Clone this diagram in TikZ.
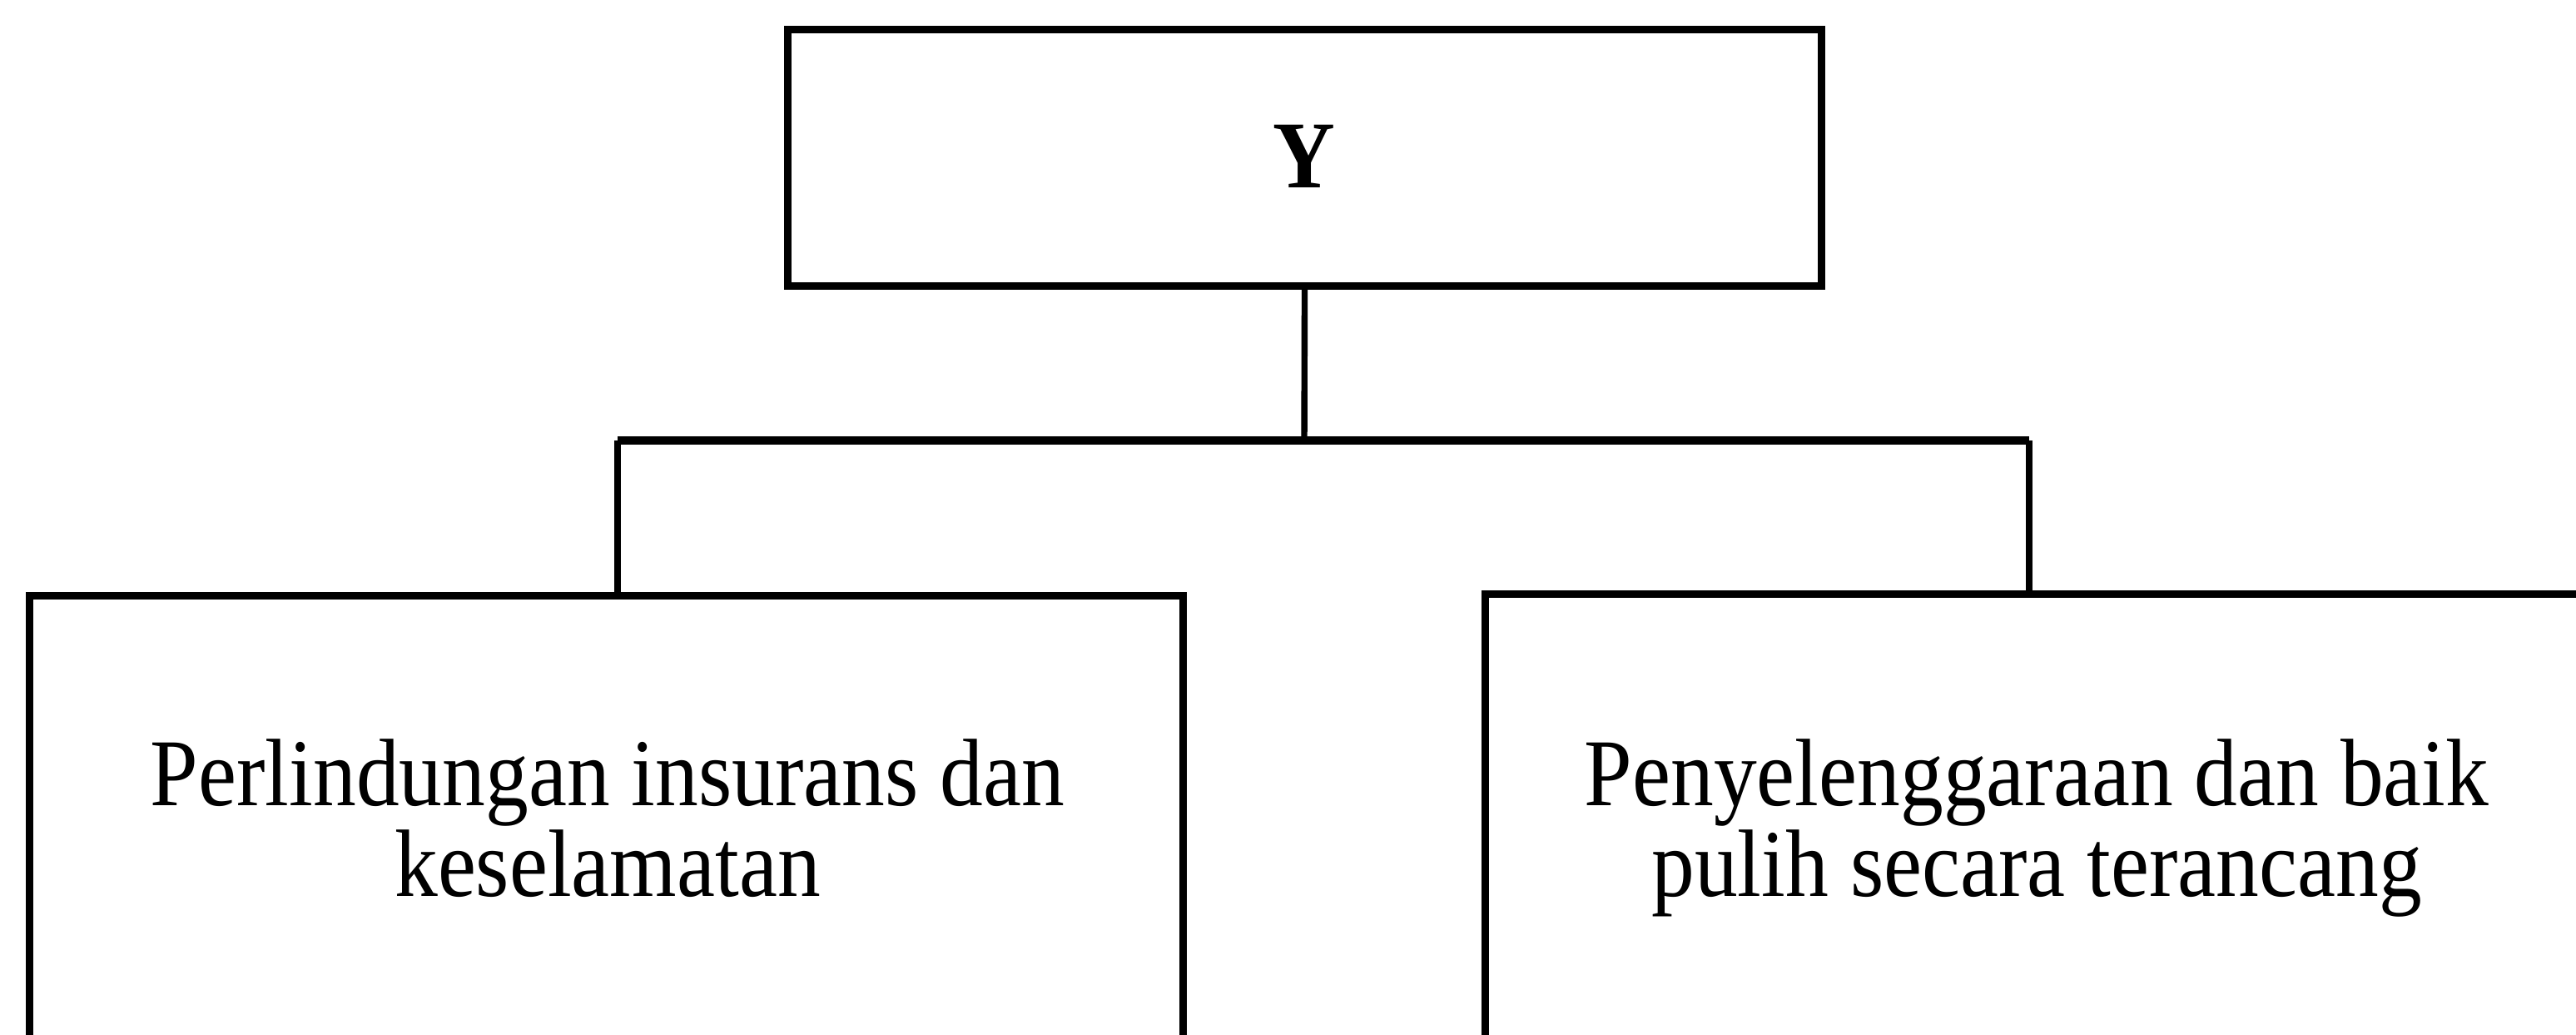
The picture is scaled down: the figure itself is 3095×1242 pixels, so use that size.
\documentclass[tikz,border=0pt]{standalone}
\usepackage{fontspec}
\setmainfont{Liberation Serif}[FakeStretch=0.9]
\begin{document}
\begin{tikzpicture}[x=0.01cm,y=-0.01cm,
  boxst/.style={draw=black,line width=2.6pt,rectangle,inner sep=0pt},
  conn/.style={draw=black,line width=2.1pt},
  txt/.style={inner sep=0pt,align=center,font=\fontsize{32.7}{31}\selectfont}]
\fill[white] (0,0) rectangle (3095,1242);
\useasboundingbox (0,0) rectangle (3095,1242);
\begin{scope}
\clip (0,0) rectangle (3095,1242);
\node[boxst,minimum width=12.41cm,minimum height=3.07cm] (top) at (1567.5,189.5) {};
\node[boxst,minimum width=13.85cm,minimum height=6.84cm] (left) at (728.5,1058) {};
\node[boxst,minimum width=15.15cm,minimum height=6.86cm] (right) at (2542.5,1057) {};
\node[txt,anchor=base,font=\fontsize{32.7}{31}\selectfont\bfseries] (ty) at (1567,225) {Y};
\node[txt,anchor=base] (tl) at (730,1076) {Perlindungan insurans dan\\keselamatan};
\node[txt,anchor=base] (tr) at (2447,1076) {Penyelenggaraan dan baik\\pulih secara terancang};
\coordinate (jc) at (1567,529);
\coordinate (jl) at (742,529);
\coordinate (jr) at (2438,529);
\draw[conn] (top.south) -- (jc);
\draw[conn,line width=2.6pt] (jl) -- (jr);
\draw[conn] (jl) -- (jl |- left.north);
\draw[conn] (jr) -- (jr |- right.north);
\end{scope}
\end{tikzpicture}
\end{document}
